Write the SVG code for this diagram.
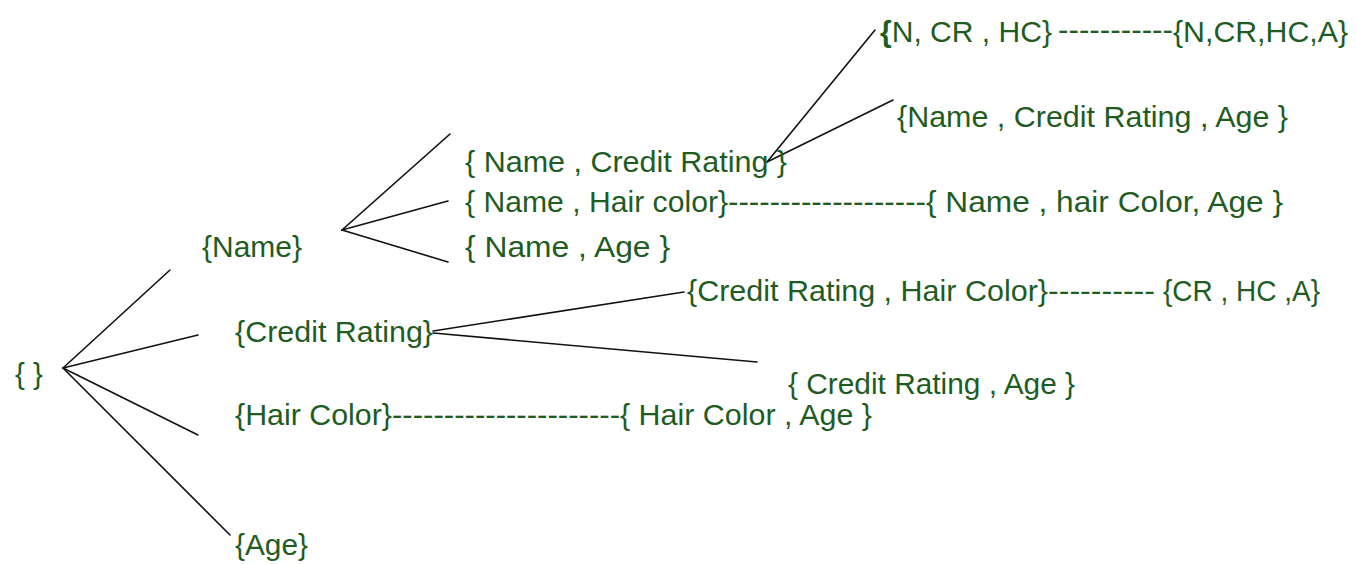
<svg xmlns="http://www.w3.org/2000/svg" width="1356" height="564" viewBox="0 0 1356 564">
<style>
.t{font-family:"Liberation Sans",Arial,sans-serif;font-size:29px;fill:#1f5c1f}
.c{stroke:#111;stroke-width:1.6;fill:none;stroke-linecap:round}
</style>
<rect width="1356" height="564" fill="#fff"/>
<g id="connectors">
<line class="c" x1="63" y1="368" x2="170" y2="270"/>
<line class="c" x1="63" y1="368" x2="198" y2="335"/>
<line class="c" x1="63" y1="368" x2="198" y2="435"/>
<line class="c" x1="63" y1="368" x2="230" y2="535"/>
<line class="c" x1="342" y1="230" x2="450" y2="134"/>
<line class="c" x1="342" y1="230" x2="448" y2="201"/>
<line class="c" x1="342" y1="230" x2="448" y2="262"/>
<line class="c" x1="433" y1="331" x2="684" y2="292" stroke-width="2"/>
<line class="c" x1="433" y1="333" x2="757" y2="362" stroke-width="2"/>
<line class="c" x1="767" y1="162" x2="875" y2="30"/>
<line class="c" x1="767" y1="162" x2="893" y2="100"/>
<text class="t" x="728" y="212" textLength="198" lengthAdjust="spacingAndGlyphs">-------------------</text>
<text class="t" x="392" y="425" textLength="228" lengthAdjust="spacingAndGlyphs">----------------------</text>
<text class="t" x="1058" y="40" textLength="115" lengthAdjust="spacingAndGlyphs">-----------</text>
<text class="t" x="1048" y="301" textLength="107" lengthAdjust="spacingAndGlyphs">----------</text>
</g>
<g id="n-empty"><text class="t" x="15" y="384" textLength="28" lengthAdjust="spacingAndGlyphs">{ }</text></g>
<g id="n-name"><text class="t" x="202" y="257" textLength="100" lengthAdjust="spacingAndGlyphs">{Name}</text></g>
<g id="n-cr"><text class="t" x="235" y="342" textLength="198" lengthAdjust="spacingAndGlyphs">{Credit Rating}</text></g>
<g id="n-hc"><text class="t" x="235" y="425" textLength="157" lengthAdjust="spacingAndGlyphs">{Hair Color}</text></g>
<g id="n-age"><text class="t" x="235" y="555" textLength="73" lengthAdjust="spacingAndGlyphs">{Age}</text></g>
<g id="n-name-cr"><text class="t" x="465" y="172" textLength="322" lengthAdjust="spacingAndGlyphs">{ Name , Credit Rating }</text></g>
<g id="n-name-hc"><text class="t" x="465" y="212" textLength="263" lengthAdjust="spacingAndGlyphs">{ Name , Hair color}</text></g>
<g id="n-name-age"><text class="t" x="465" y="257" textLength="205" lengthAdjust="spacingAndGlyphs">{ Name  , Age }</text></g>
<g id="n-n-cr-hc"><text class="t" x="880" y="42" textLength="172" lengthAdjust="spacingAndGlyphs"><tspan font-weight="bold">{</tspan>N, CR , HC}</text></g>
<g id="n-n-cr-hc-a"><text class="t" x="1173" y="42" textLength="175" lengthAdjust="spacingAndGlyphs">{N,CR,HC,A}</text></g>
<g id="n-name-cr-age"><text class="t" x="897" y="127" textLength="391" lengthAdjust="spacingAndGlyphs">{Name , Credit Rating , Age }</text></g>
<g id="n-name-hc-age"><text class="t" x="926" y="212" textLength="357" lengthAdjust="spacingAndGlyphs">{ Name , hair Color, Age }</text></g>
<g id="n-cr-hc"><text class="t" x="687" y="301" textLength="361" lengthAdjust="spacingAndGlyphs">{Credit Rating , Hair Color}</text></g>
<g id="n-cr-hc-a"><text class="t" x="1163" y="301" textLength="157" lengthAdjust="spacingAndGlyphs">{CR , HC ,A}</text></g>
<g id="n-cr-age"><text class="t" x="788" y="394" textLength="287" lengthAdjust="spacingAndGlyphs">{ Credit Rating , Age }</text></g>
<g id="n-hc-age"><text class="t" x="620" y="425" textLength="252" lengthAdjust="spacingAndGlyphs">{ Hair Color , Age }</text></g>
</svg>
